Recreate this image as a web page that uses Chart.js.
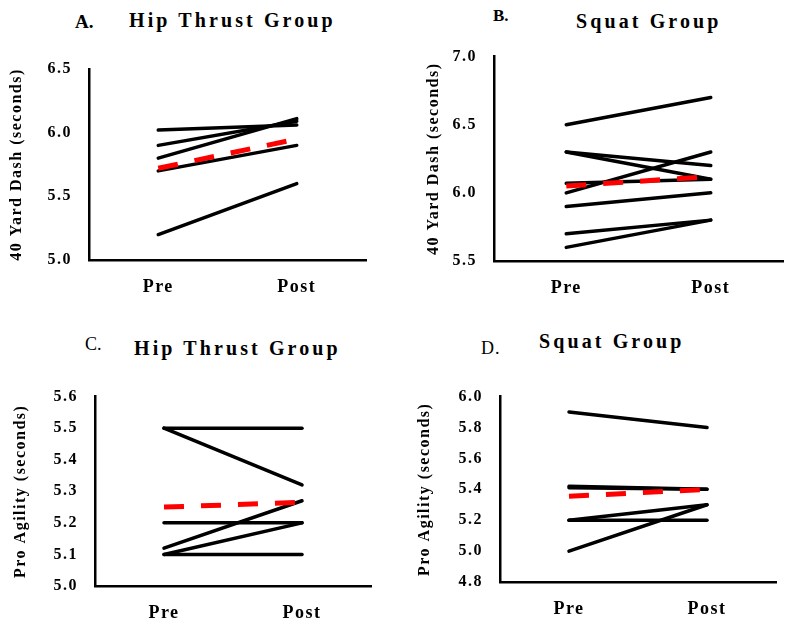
<!DOCTYPE html>
<html>
<head>
<meta charset="utf-8">
<script src="https://cdn.jsdelivr.net/npm/chart.js@4.4.1/dist/chart.umd.min.js"></script>
<style>
  body { margin: 0; background: #fff; }
  #page { position: relative; width: 792px; height: 625px; overflow: hidden; font-family: 'Liberation Serif', serif; color: #000; }
  canvas { position: absolute; }
  .lbl { position: absolute; line-height: 1; white-space: nowrap; }
  .grp { font-size: 20px; font-weight: bold; letter-spacing: 3.1px; }
</style>
</head>
<body>
<div id="page">
  <div class="lbl" style="left:75px;top:12px;font-size:19px;font-weight:bold;">A.</div>
  <div class="lbl grp" style="left:129px;top:10px;">Hip Thrust Group</div>
  <div class="lbl" style="left:493px;top:7px;font-size:17px;font-weight:bold;">B.</div>
  <div class="lbl grp" style="left:576px;top:11px;">Squat Group</div>
  <div class="lbl" style="left:85px;top:335px;font-size:18px;">C.</div>
  <div class="lbl grp" style="left:134px;top:338px;">Hip Thrust Group</div>
  <div class="lbl" style="left:481px;top:339px;font-size:18px;letter-spacing:1px;">D.</div>
  <div class="lbl grp" style="left:539px;top:331px;">Squat Group</div>

  <canvas id="chartA" width="396" height="270" style="left:0px;top:40px;"></canvas>
  <canvas id="chartB" width="396" height="280" style="left:396px;top:30px;"></canvas>
  <canvas id="chartC" width="396" height="255" style="left:0px;top:370px;"></canvas>
  <canvas id="chartD" width="396" height="255" style="left:396px;top:370px;"></canvas>
</div>
<script>
// time points
var timeLabels = ['Pre', 'Post'];

// A. hip thrust group, 40 yard dash (seconds)
var hipDashPre  = [6.02, 5.90, 5.80, 5.70, 5.20];
var hipDashPost = [6.06, 6.09, 6.11, 5.90, 5.60];
var hipDashMean = [5.72, 5.95];

// B. squat group, 40 yard dash (seconds)
var sqDashPre  = [6.50, 6.30, 6.30, 6.00, 6.07, 5.90, 5.70, 5.60];
var sqDashPost = [6.70, 6.20, 6.10, 6.30, 6.10, 6.00, 5.80, 5.80];
var sqDashMean = [6.05, 6.12];

// C. hip thrust group, pro agility (seconds)
var hipAgPre  = [5.50, 5.50, 5.20, 5.12, 5.10, 5.10];
var hipAgPost = [5.50, 5.32, 5.20, 5.27, 5.20, 5.10];
var hipAgMean = [5.25, 5.265];

// D. squat group, pro agility (seconds)
var sqAgPre  = [5.90, 5.42, 5.41, 5.20, 5.20, 5.00];
var sqAgPost = [5.80, 5.40, 5.40, 5.20, 5.30, 5.30];
var sqAgMean = [5.355, 5.40];

Chart.defaults.font.family = "'Liberation Serif', serif";
Chart.defaults.color = '#000';

var spacingPlugin = {
  id: 'spacing',
  beforeDraw: function (chart) {
    chart.ctx.letterSpacing = '1.5px';
  }
};

function makePanel(id, box, yMin, yMax, yStep, yTitle, pre, post, mean) {
  var datasets = [];
  // mean goes first so it is drawn on top
  datasets.push({
    data: [{x: 0, y: mean[0]}, {x: 1, y: mean[1]}],
    borderColor: '#ff0000',
    borderWidth: 5,
    borderDash: [20, 17],
    pointRadius: 0
  });
  for (var i = 0; i < pre.length; i++) {
    datasets.push({
      data: [{x: 0, y: pre[i]}, {x: 1, y: post[i]}],
      borderColor: '#000',
      borderWidth: 3.5,
      borderCapStyle: 'round',
      pointRadius: 0
    });
  }

  var xHeight = 35;
  var ctx = document.getElementById(id).getContext('2d');
  new Chart(ctx, {
    type: 'line',
    data: { datasets: datasets },
    plugins: [spacingPlugin],
    options: {
      responsive: false,
      animation: false,
      events: [],
      layout: {
        padding: {
          left: 0,
          top: box.top - box.cy,
          right: box.cx + box.w - box.right,
          bottom: box.cy + box.h - box.bottom - xHeight
        }
      },
      plugins: {
        legend: { display: false },
        tooltip: { enabled: false }
      },
      scales: {
        x: {
          type: 'linear',
          min: -0.5,
          max: 1.5,
          grid: { display: false, drawTicks: false },
          border: { display: true, color: '#000', width: 2.5 },
          afterBuildTicks: function (axis) {
            axis.ticks = [{value: 0}, {value: 1}];
          },
          afterFit: function (axis) { axis.height = xHeight; },
          ticks: {
            padding: 17,
            font: { size: 18, weight: 'bold' },
            callback: function (v) { return timeLabels[v]; }
          }
        },
        y: {
          min: yMin,
          max: yMax,
          grid: { display: false, drawTicks: false },
          border: { display: true, color: '#000', width: 2.5 },
          afterFit: function (axis) { axis.width = box.left - box.cx; },
          ticks: {
            stepSize: yStep,
            autoSkip: false,
            padding: 17,
            font: { size: 16, weight: 'bold' },
            callback: function (v) { return v.toFixed(1); }
          },
          title: {
            display: true,
            text: yTitle,
            font: { size: 16, weight: 'bold' },
            padding: { top: box.titleX - box.cx - 9.6, bottom: 0 }
          }
        }
      }
    }
  });
}

makePanel('chartA', {cx: 0, cy: 40, w: 396, h: 270, left: 89, top: 69, right: 366, bottom: 260, titleX: 17},
  5.0, 6.5, 0.5, '40 Yard Dash (seconds)', hipDashPre, hipDashPost, hipDashMean);
makePanel('chartB', {cx: 396, cy: 30, w: 396, h: 280, left: 494, top: 53, right: 783, bottom: 261, titleX: 434},
  5.5, 7.0, 0.5, '40 Yard Dash (seconds)', sqDashPre, sqDashPost, sqDashMean);
makePanel('chartC', {cx: 0, cy: 370, w: 396, h: 255, left: 95, top: 396, right: 371, bottom: 586, titleX: 21},
  5.0, 5.6, 0.1, 'Pro Agility (seconds)', hipAgPre, hipAgPost, hipAgMean);
makePanel('chartD', {cx: 396, cy: 370, w: 396, h: 255, left: 500, top: 390, right: 776, bottom: 582, titleX: 425},
  4.8, 6.0, 0.2, 'Pro Agility (seconds)', sqAgPre, sqAgPost, sqAgMean);
</script>
</body>
</html>
